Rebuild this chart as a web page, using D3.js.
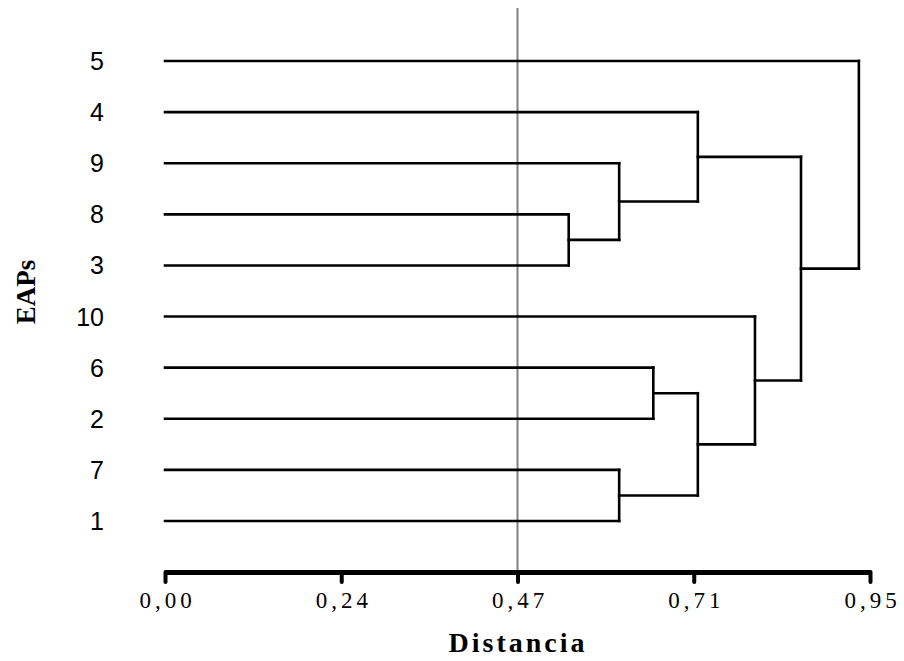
<!DOCTYPE html>
<html>
<head>
<meta charset="utf-8">
<script src="https://cdn.jsdelivr.net/npm/d3@7"></script>
<style>
  body { margin: 0; background: #fff; }
</style>
</head>
<body>
<div id="chart-area"></div>
<script>
// DATA
var leafLabels = ["5", "4", "9", "8", "3", "10", "6", "2", "7", "1"];
// each merge joins node A and node B at a given distance; merge i is named "c" + (i+1)
var mergeA = ["8", "c1", "4", "6", "7", "c4", "10", "c3", "5"];
var mergeB = ["3", "9", "c2", "2", "1", "c5", "c6", "c7", "c8"];
var mergeHeight = [0.544, 0.612, 0.718, 0.658, 0.612, 0.718, 0.795, 0.857, 0.935];
var cutValue = 0.475;
var tickValues = [0, 0.2375, 0.475, 0.7125, 0.95];
var tickLabels = ["0,00", "0,24", "0,47", "0,71", "0,95"];

// SIZE
var W = 904, H = 661;
var axisY = 572;

var svg = d3.select("#chart-area")
    .append("svg")
    .attr("width", W)
    .attr("height", H);

// Scales
var x = d3.scaleLinear().domain([0, 0.95]).range([165, 870]);
var y = d3.scalePoint().domain(leafLabels).range([61, 521]);

// Node positions
var pos = {};
leafLabels.forEach(function(l) { pos[l] = { h: 0, y: y(l) }; });

var links = [];
mergeA.forEach(function(a, i) {
    var b = mergeB[i];
    var h = mergeHeight[i];
    var pa = pos[a], pb = pos[b];
    // horizontal arms from each child to the merge height, then the vertical join
    links.push({ x1: x(pa.h), y1: pa.y, x2: x(h), y2: pa.y });
    links.push({ x1: x(pb.h), y1: pb.y, x2: x(h), y2: pb.y });
    links.push({ x1: x(h), y1: pa.y, x2: x(h), y2: pb.y });
    pos["c" + (i + 1)] = { h: h, y: (pa.y + pb.y) / 2 };
});

// Cut line
svg.append("line")
    .attr("x1", x(cutValue)).attr("x2", x(cutValue))
    .attr("y1", 8).attr("y2", axisY)
    .attr("stroke", "#808080")
    .attr("stroke-width", 2);

// Dendrogram
svg.append("g").selectAll("line")
    .data(links)
    .enter().append("line")
    .attr("x1", d => d.x1).attr("y1", d => d.y1)
    .attr("x2", d => d.x2).attr("y2", d => d.y2)
    .attr("stroke", "#000")
    .attr("stroke-width", 2.6)
    .attr("stroke-linecap", "square");

// Leaf labels
svg.append("g").selectAll("text")
    .data(leafLabels)
    .enter().append("text")
    .attr("x", 104)
    .attr("y", d => y(d))
    .attr("dy", "0.36em")
    .attr("text-anchor", "end")
    .attr("font-family", "Liberation Sans, Arial, sans-serif")
    .attr("font-size", "25px")
    .attr("fill", "#000")
    .text(d => d);

// X axis
var xAxis = d3.axisBottom(x)
    .tickValues(tickValues)
    .tickFormat((d, i) => tickLabels[i])
    .tickSize(10)
    .tickSizeOuter(0);

var xAxisGroup = svg.append("g")
    .attr("transform", "translate(0," + axisY + ")")
    .call(xAxis);

xAxisGroup.select(".domain")
    .attr("stroke", "#000")
    .attr("stroke-width", 5);
xAxisGroup.selectAll(".tick line")
    .attr("stroke", "#000")
    .attr("stroke-width", 4)
    .attr("stroke-linecap", "round");
xAxisGroup.selectAll(".tick text")
    .attr("y", 36)
    .attr("dy", 0)
    .attr("dx", 2)
    .attr("fill", "#000")
    .attr("font-family", "Liberation Serif, Times New Roman, serif")
    .attr("font-size", "23px")
    .attr("letter-spacing", "4px");

// X label
svg.append("text")
    .attr("x", 518)
    .attr("y", 652)
    .attr("text-anchor", "middle")
    .attr("font-family", "Liberation Serif, Times New Roman, serif")
    .attr("font-weight", "bold")
    .attr("font-size", "28px")
    .attr("letter-spacing", "3px")
    .text("Distancia");

// Y label
svg.append("text")
    .attr("transform", "translate(35,292) rotate(-90)")
    .attr("text-anchor", "middle")
    .attr("font-family", "Liberation Serif, Times New Roman, serif")
    .attr("font-weight", "bold")
    .attr("font-size", "27px")
    .text("EAPs");
</script>
</body>
</html>
